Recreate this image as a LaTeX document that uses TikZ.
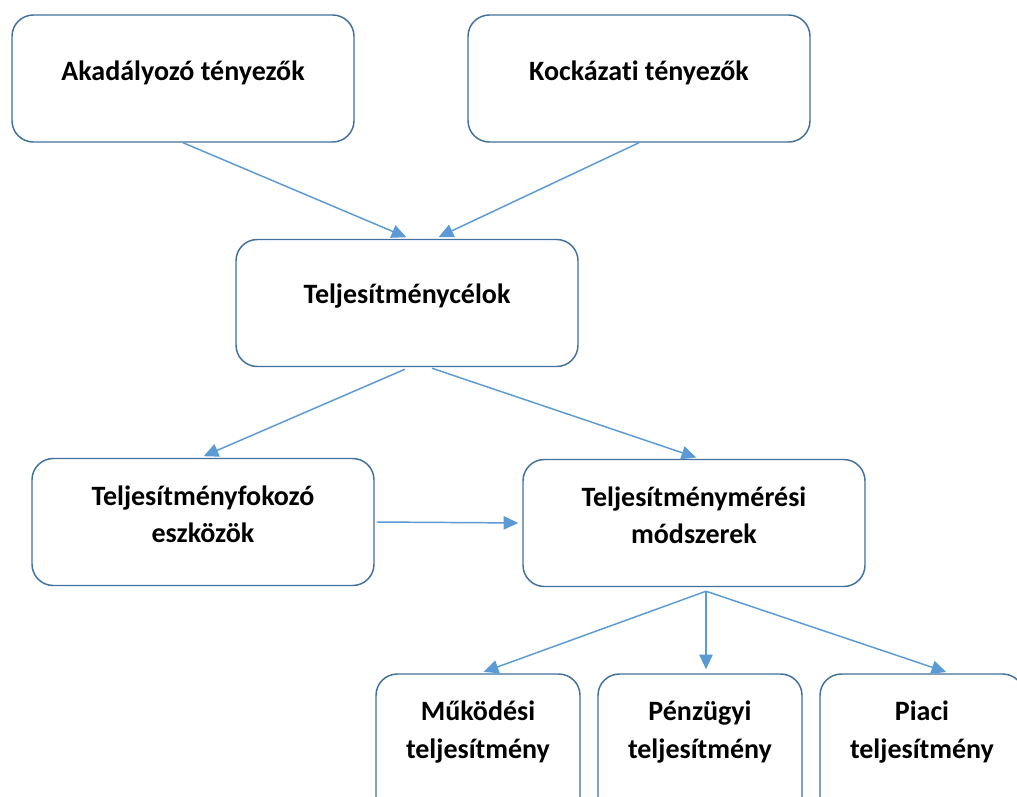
\documentclass[tikz,border=0pt]{standalone}
\usepackage{fontspec}
\setmainfont[Ligatures=NoCommon]{Carlito}
\usetikzlibrary{arrows.meta,calc}
\definecolor{boxline}{HTML}{41719C}
\definecolor{arrowline}{HTML}{5B9BD5}
\begin{document}
\begin{tikzpicture}[x=0.75pt,y=-0.75pt,
  bigbox/.style={draw=boxline, line width=1.1pt, rounded corners=16pt, fill=white,
    minimum width=256.5pt, minimum height=95.25pt, inner sep=0pt},
  smallbox/.style={bigbox, minimum width=153pt, minimum height=109.5pt},
  txt/.style={font=\bfseries\fontsize{21}{28}\selectfont, align=center, inner sep=0pt},
  arr/.style={draw=arrowline, line width=1.1pt, -{Triangle[length=11pt,width=10pt]}, shorten >=3pt}]
\useasboundingbox (0,0) rectangle (1017,796);
\clip (0,0) rectangle (1017,796);
\fill[white] (0,0) rectangle (1017,796);

% boxes
\node[bigbox] (A) at (183,78.5) {};
\node[bigbox] (B) at (639,78.5) {};
\node[bigbox] (C) at (407,303) {};
\node[bigbox] (D) at (203,522) {};
\node[bigbox] (E) at (694,523) {};
\node[smallbox] (F) at (478,747) {};
\node[smallbox] (G) at (700,747) {};
\node[smallbox] (H) at (922,747) {};

% labels
\node[txt] (tA) at (183,73) {Akadályozó tényezők};
\node[txt] (tB) at (639,73) {Kockázati tényezők};
\node[txt] (tC) at (407,296) {Teljesítménycélok};
\node[txt] (tD) at (203,514) {Teljesítményfokozó\\eszközök};
\node[txt] (tE) at (694,515) {Teljesítménymérési\\módszerek};
\node[txt] (tF) at (478,732) {Működési\\teljesítmény};
\node[txt] (tG) at (700,732) {Pénzügyi\\teljesítmény};
\node[txt] (tH) at (922,732) {Piaci\\teljesítmény};

% connectors
\coordinate (Es) at ($(E.south)+(12,4)$);
\draw[arr] (A.south) -- ($(C.north)+(3,0)$);
\draw[arr] (B.south) -- ($(C.north)+(28,0)$);
\draw[arr] ($(C.south)+(-2,2)$) -- ($(D.north)+(-3,0)$);
\draw[arr] ($(C.south)+(25,1)$) -- ($(E.north)+(6,0)$);
\draw[arr] ($(D.east)+(2,0)$) -- (E.west);
\draw[arr] (Es) -- ($(F.north)+(2,0)$);
\draw[arr] (Es) -- ($(G.north)+(6,0)$);
\draw[arr] (Es) -- ($(H.north)+(28,0)$);
\end{tikzpicture}
\end{document}
